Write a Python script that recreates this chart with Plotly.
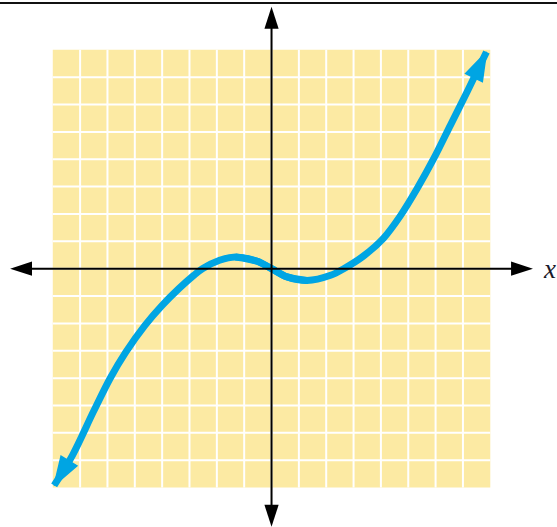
import plotly.graph_objects as go

# ---- data (grid units) ----
grid_min, grid_max = -8, 8
grid_ticks = list(range(-7, 8))

curve_x = [-7.95, -7.28, -6.52, -5.91, -5.33, -4.63, -4.0, -3.39, -2.84, -2.53,
           -1.9, -1.32, -0.52, 0.0, 0.57, 1.30, 2.16, 2.64, 3.37, 4.10, 4.71,
           5.32, 5.93, 6.54, 7.15, 7.86]
curve_y = [-7.92, -6.82, -5.24, -4.02, -3.05, -2.07, -1.34, -0.73, -0.24, 0.0,
           0.31, 0.43, 0.27, 0.0, -0.30, -0.43, -0.24, 0.0, 0.47, 1.12, 1.93,
           2.92, 4.02, 5.24, 6.46, 7.92]

# arrow tips of the coordinate axes (right, left, top, bottom edge of view)
axis_tips = [(9.56, 0), (-9.56, 0), (0, 9.57), (0, -9.43)]
axis_label = "<i>x</i>"
label_x = 10.15

YELLOW = "#FCEAA3"
BLUE = "#00A5E3"

fig = go.Figure()

# curve: two overlapping halves so each end gets its own arrowhead
split_hi = curve_x.index(1.30)
split_lo = curve_x.index(-1.32)
left_x = curve_x[:split_hi + 1][::-1]
left_y = curve_y[:split_hi + 1][::-1]
right_x = curve_x[split_lo:]
right_y = curve_y[split_lo:]
for xs, ys in ((left_x, left_y), (right_x, right_y)):
    fig.add_trace(go.Scatter(
        x=xs, y=ys, mode="lines",
        line=dict(color=BLUE, width=7, shape="spline", smoothing=0.9),
        hoverinfo="skip", showlegend=False, cliponaxis=False))
    # arrowhead on the final point, oriented from the previous point
    fig.add_trace(go.Scatter(
        x=xs[-2:], y=ys[-2:], mode="markers",
        marker=dict(symbol="arrow", size=[0, 30], color=BLUE, opacity=1,
                    angleref="previous", line=dict(width=1.5, color=BLUE)),
        hoverinfo="skip", showlegend=False, cliponaxis=False))

# axes with arrowheads
for ex, ey in axis_tips:
    fig.add_trace(go.Scatter(
        x=[0, ex], y=[0, ey], mode="lines+markers",
        line=dict(color="black", width=2),
        marker=dict(symbol="arrow", size=[0, 23], color="black", opacity=1,
                    angleref="previous", line=dict(width=0)),
        hoverinfo="skip", showlegend=False, cliponaxis=False))

# yellow grid background and white grid lines
shapes = [dict(type="rect", xref="x", yref="y", x0=grid_min, x1=grid_max,
               y0=grid_min, y1=grid_max, fillcolor=YELLOW, line=dict(width=0),
               layer="below")]
for t in grid_ticks:
    shapes.append(dict(type="line", xref="x", yref="y", x0=t, x1=t,
                       y0=grid_min, y1=grid_max, line=dict(color="white", width=2),
                       layer="below"))
    shapes.append(dict(type="line", xref="x", yref="y", y0=t, y1=t,
                       x0=grid_min, x1=grid_max, line=dict(color="white", width=2),
                       layer="below"))
# page rule at the top
shapes.append(dict(type="line", xref="paper", yref="paper", x0=0, x1=1,
                   y0=0.9943, y1=0.9943, line=dict(color="#111111", width=2)))

fig.update_layout(
    width=557, height=527,
    margin=dict(l=0, r=0, t=0, b=0),
    paper_bgcolor="white", plot_bgcolor="white",
    xaxis=dict(range=[-9.93, 10.44], visible=False, fixedrange=True),
    yaxis=dict(range=[-9.44, 9.82], visible=False, fixedrange=True),
    shapes=shapes,
    annotations=[dict(x=label_x, y=0, xref="x", yref="y", text=axis_label,
                      showarrow=False,
                      font=dict(family="Liberation Serif", size=27, color="#1a1a2a"),
                      xanchor="center", yanchor="middle")],
)

fig.write_html("out.html", config={"displayModeBar": False},
               post_script="document.body.style.margin='0';"
                           "document.body.style.overflow='hidden';")
